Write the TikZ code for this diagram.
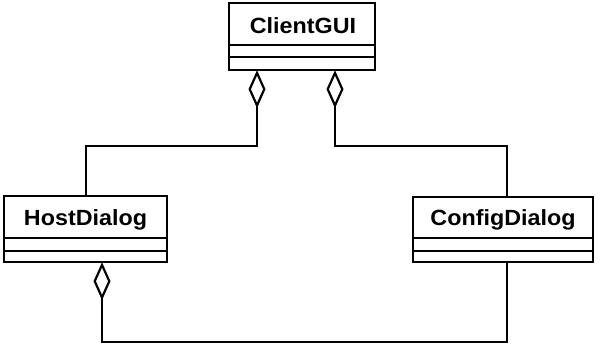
\documentclass[tikz,border=0pt]{standalone}
\usepackage{fontspec}
\setmainfont{Liberation Sans}
\usetikzlibrary{arrows.meta}
\begin{document}
\begin{tikzpicture}[x=1pt,y=-1pt,
  lw/.style={line width=2.5pt},
  nametext/.style={font=\fontsize{22}{26}\selectfont\bfseries,inner sep=0pt},
  agg/.style={line width=2.5pt,-{Diamond[open,length=38pt,width=17pt,line width=2.2pt]}}]
\useasboundingbox (0,0) rectangle (602,345);
% ClientGUI
\draw[lw] (229,3) rectangle (375,70);
\node[inner sep=0pt,minimum width=146pt,minimum height=67pt] (cg) at (302,36.5) {};
\node[nametext] (cgt) at (303,26) {\scalebox{1.06}[1]{ClientGUI}};
\draw[lw] (229,45) -- (375,45) (229,57) -- (375,57);
% HostDialog
\draw[lw] (4,196) rectangle (167,262);
\node[inner sep=0pt,minimum width=163pt,minimum height=66pt] (hd) at (85.5,229) {};
\node[nametext] (hdt) at (85.5,220) {\scalebox{1.06}[1]{HostDialog}};
\draw[lw] (4,238) -- (167,238) (4,251) -- (167,251);
% ConfigDialog
\draw[lw] (413,197) rectangle (593,262);
\node[inner sep=0pt,minimum width=180pt,minimum height=65pt] (cd) at (503,229.5) {};
\node[nametext] (cdt) at (503,220) {\scalebox{1.06}[1]{ConfigDialog}};
\draw[lw] (413,238) -- (593,238) (413,251) -- (593,251);
% connectors
\coordinate (p2) at (257,146);
\draw[agg] ([xshift=0.5pt]hd.north) |- (p2) -- (p2 |- cg.south);
\coordinate (p3) at (335,146);
\draw[agg] ([xshift=4pt]cd.north) |- (p3) -- (p3 |- cg.south);
\coordinate (p4) at (507,342);
\coordinate (p5) at (102,342);
\draw[agg] ([xshift=4pt]cd.south) -- (p4) -- (p5) -- (p5 |- hd.south);
\end{tikzpicture}
\end{document}
